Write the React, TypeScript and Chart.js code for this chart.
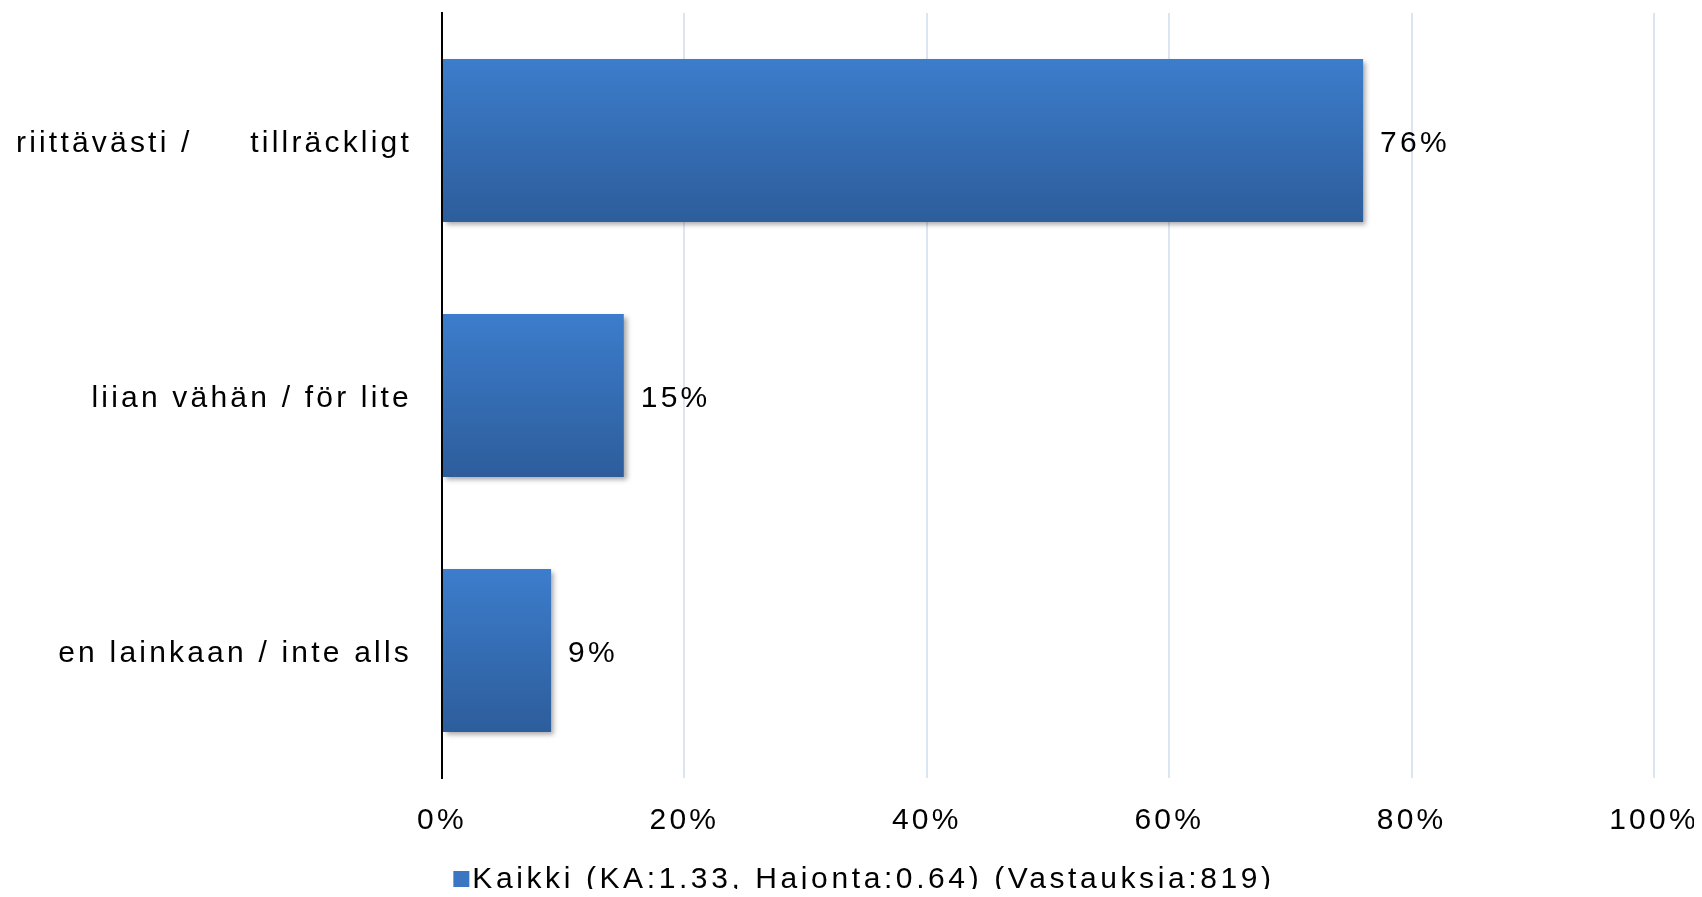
import React, { useEffect, useRef } from "react";
import { Chart, registerables } from "chart.js";

Chart.register(...registerables);

const categories = ["riittävästi /     tillräckligt", "liian vähän / för lite", "en lainkaan / inte alls"];
const values = [76, 15, 9];
const xTicks = [0, 20, 40, 60, 80, 100];
const seriesLabel = "Kaikki (KA:1.33, Hajonta:0.64) (Vastauksia:819)";

const FONT = "'Liberation Sans', Arial, sans-serif";
const LS = "3.2px";
const BAR_PCT = 0.64;
const W = 1686;
const H = 889;

export default function App() {
  const ref = useRef<HTMLCanvasElement | null>(null);

  useEffect(() => {
    const canvas = ref.current!;
    const setLS = (chart: any) => {
      try {
        chart.ctx.letterSpacing = LS;
      } catch (e) {}
    };

    const helper = {
      id: "helper",
      beforeInit: setLS,
      beforeUpdate: setLS,
      beforeLayout: setLS,
      beforeDraw: setLS,
      beforeDatasetsDraw(chart: any) {
        const ctx = chart.ctx;
        ctx.save();
        ctx.shadowColor = "rgba(0,0,0,0.35)";
        ctx.shadowBlur = 5;
        ctx.shadowOffsetX = 3;
        ctx.shadowOffsetY = 3;
      },
      afterDatasetsDraw(chart: any) {
        chart.ctx.restore();
      },
      afterDraw(chart: any) {
        const ctx = chart.ctx;
        ctx.save();
        ctx.letterSpacing = LS;
        ctx.font = `30px ${FONT}`;
        ctx.fillStyle = "#000";
        ctx.textBaseline = "middle";
        ctx.textAlign = "left";
        const meta = chart.getDatasetMeta(0);
        meta.data.forEach((bar: any, i: number) => {
          ctx.fillText(`${values[i]}%`, bar.x + 17, bar.y + 3);
        });
        // legend
        ctx.letterSpacing = "3.6px";
        const tw = ctx.measureText(seriesLabel).width;
        const box = 16;
        const gap = 3;
        const total = box + gap + tw;
        const cx = chart.width / 2 + 13;
        const ly = 872;
        const x0 = cx - total / 2;
        ctx.fillStyle = "#3a76c2";
        ctx.fillRect(x0, ly - 1 - box / 2, box, box);
        ctx.fillStyle = "#000";
        ctx.fillText(seriesLabel, x0 + box + gap, ly);
        ctx.restore();
      },
    };

    const chart = new Chart(canvas, {
      type: "bar",
      data: {
        labels: categories,
        datasets: [
          {
            label: seriesLabel,
            data: values,
            backgroundColor: (c: any) => {
              const ch = c.chart;
              const area = ch.chartArea;
              const ys = ch.scales?.y;
              if (!area || !ys || c.dataIndex === undefined) return "#3a76c2";
              const center = ys.getPixelForValue(c.dataIndex);
              const h = ((area.bottom - area.top) / categories.length) * BAR_PCT;
              const g = ch.ctx.createLinearGradient(0, center - h / 2, 0, center + h / 2);
              g.addColorStop(0, "#3c7dcc");
              g.addColorStop(1, "#2d5d9b");
              return g;
            },
            borderWidth: 0,
            categoryPercentage: 1,
            barPercentage: BAR_PCT,
          },
        ],
      },
      options: {
        indexAxis: "y",
        responsive: false,
        devicePixelRatio: 1,
        animation: false,
        layout: { padding: { top: 5, right: 40, left: 0, bottom: 0 } },
        plugins: {
          legend: { display: false },
          tooltip: { enabled: false },
        },
        scales: {
          x: {
            min: 0,
            max: 100,
            afterBuildTicks: (s: any) => {
              s.ticks = xTicks.map((v) => ({ value: v }));
            },
            afterFit: (s: any) => {
              s.height = 119;
              s.paddingLeft = 0;
              s.paddingRight = 0;
            },
            ticks: {
              callback: (v: any) => `${v}%`,
              font: { size: 30, family: FONT },
              color: "#000",
              padding: 25,
              maxRotation: 0,
            },
            grid: {
              color: (c: any) => (c.index === 0 ? "rgba(0,0,0,0)" : "#dce6f2"),
              lineWidth: 2,
              drawTicks: false,
            },
            border: { display: false },
          },
          y: {
            afterFit: (s: any) => {
              s.width = 434;
              s.paddingTop = 0;
              s.paddingBottom = 0;
            },
            ticks: {
              font: { size: 30, family: FONT },
              color: "#000",
              padding: 30,
              labelOffset: 3,
            },
            grid: { display: false, drawTicks: false },
            border: { display: true, color: "#000", width: 2 },
          },
        },
      },
      plugins: [helper],
    } as any);

    return () => chart.destroy();
  }, []);

  return (
    <div style={{ width: W, height: H, marginBottom: -8 }}>
      <canvas ref={ref} width={W} height={H} style={{ width: W, height: H, display: "block" }} />
    </div>
  );
}
